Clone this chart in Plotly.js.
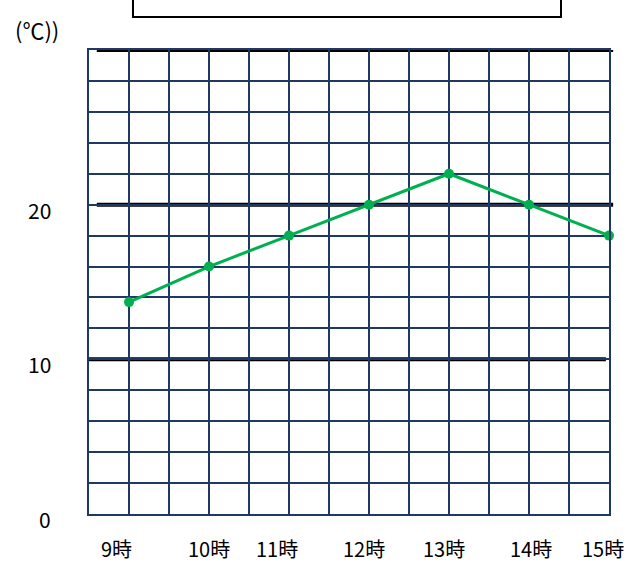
<!DOCTYPE html>
<html><head><meta charset="utf-8">
<script src="https://cdn.plot.ly/plotly-3.0.1.min.js"></script>
<style>html,body{margin:0;padding:0;background:#fff;}#chart{width:642px;height:586px;}</style>
</head><body><div id="chart"></div>
<script>
// ---- data ----
const hours = [9, 10, 11, 12, 13, 14, 15];
const temps = [13.7, 16, 18, 20, 22, 20, 18];
const hourLabels = ['9時', '10時', '11時', '12時', '13時', '14時', '15時'];
const hourLabelPos = [8.84, 10, 10.85, 11.94, 12.94, 14.03, 14.93];
const yTickVals = [0, 10, 20];
const yTickText = ['0', '10', '20'];
const boldLines = [10, 20, 30];
const unitLabel = '(℃))';

// ---- styles ----
const NAVY = '#1F3864';
const GREEN = '#00B050';
const FONT = '"Noto Sans CJK JP", "Noto Sans", sans-serif';
const boldExtent = {10: [-0.002, 0.994], 20: [0.015, 1.008], 30: [0.015, 1.008]};

const annotations = [];
hourLabels.forEach((t, i) => {
  annotations.push({
    text: t, x: hourLabelPos[i], xref: 'x', y: -0.0733, yref: 'paper',
    xanchor: 'center', yanchor: 'middle', showarrow: false,
    font: {family: FONT, size: 20, color: '#000'}
  });
});
yTickVals.forEach((v, i) => {
  annotations.push({
    text: yTickText[i], x: -0.069, xref: 'paper', y: v, yref: 'y',
    xanchor: 'right', yanchor: 'middle', yshift: -5, showarrow: false,
    font: {family: FONT, size: 21, color: '#000'}
  });
});
annotations.push({
  text: unitLabel, x: -0.146, xref: 'paper', y: 1.045, yref: 'paper',
  xanchor: 'left', yanchor: 'middle', showarrow: false,
  font: {family: FONT, size: 22, color: '#000'}
});

const shapes = boldLines.map(v => ({
  type: 'line', xref: 'paper', yref: 'y',
  x0: boldExtent[v][0], x1: boldExtent[v][1], y0: v, y1: v,
  line: {color: '#000', width: 4}, layer: 'between'
}));
shapes.push({
  type: 'rect', xref: 'paper', yref: 'paper',
  x0: 0.0846, x1: 0.9077, y0: 1.0711, y1: 1.2,
  line: {color: '#000', width: 2}, fillcolor: 'rgba(0,0,0,0)', layer: 'above'
});

const trace = {
  x: hours, y: temps, type: 'scatter', mode: 'lines+markers',
  line: {color: GREEN, width: 3},
  marker: {color: GREEN, size: 10},
  hoverinfo: 'skip', cliponaxis: false
};

const layout = {
  width: 642, height: 586,
  margin: {l: 89, r: 33, t: 50, b: 72, pad: 0},
  paper_bgcolor: '#fff', plot_bgcolor: '#fff',
  showlegend: false,
  xaxis: {
    range: [8.5, 15], tick0: 8.5, dtick: 0.5,
    showgrid: true, gridcolor: NAVY, gridwidth: 2,
    showticklabels: false, ticks: '', zeroline: false,
    showline: true, linecolor: NAVY, linewidth: 2, mirror: true, fixedrange: true
  },
  yaxis: {
    range: [0, 30], tick0: 0, dtick: 2,
    showgrid: true, gridcolor: NAVY, gridwidth: 2,
    showticklabels: false, ticks: '', zeroline: false,
    showline: true, linecolor: NAVY, linewidth: 2, mirror: true, fixedrange: true
  },
  annotations: annotations,
  shapes: shapes
};

Plotly.newPlot('chart', [trace], layout, {displayModeBar: false, staticPlot: true});
</script>
</body></html>
